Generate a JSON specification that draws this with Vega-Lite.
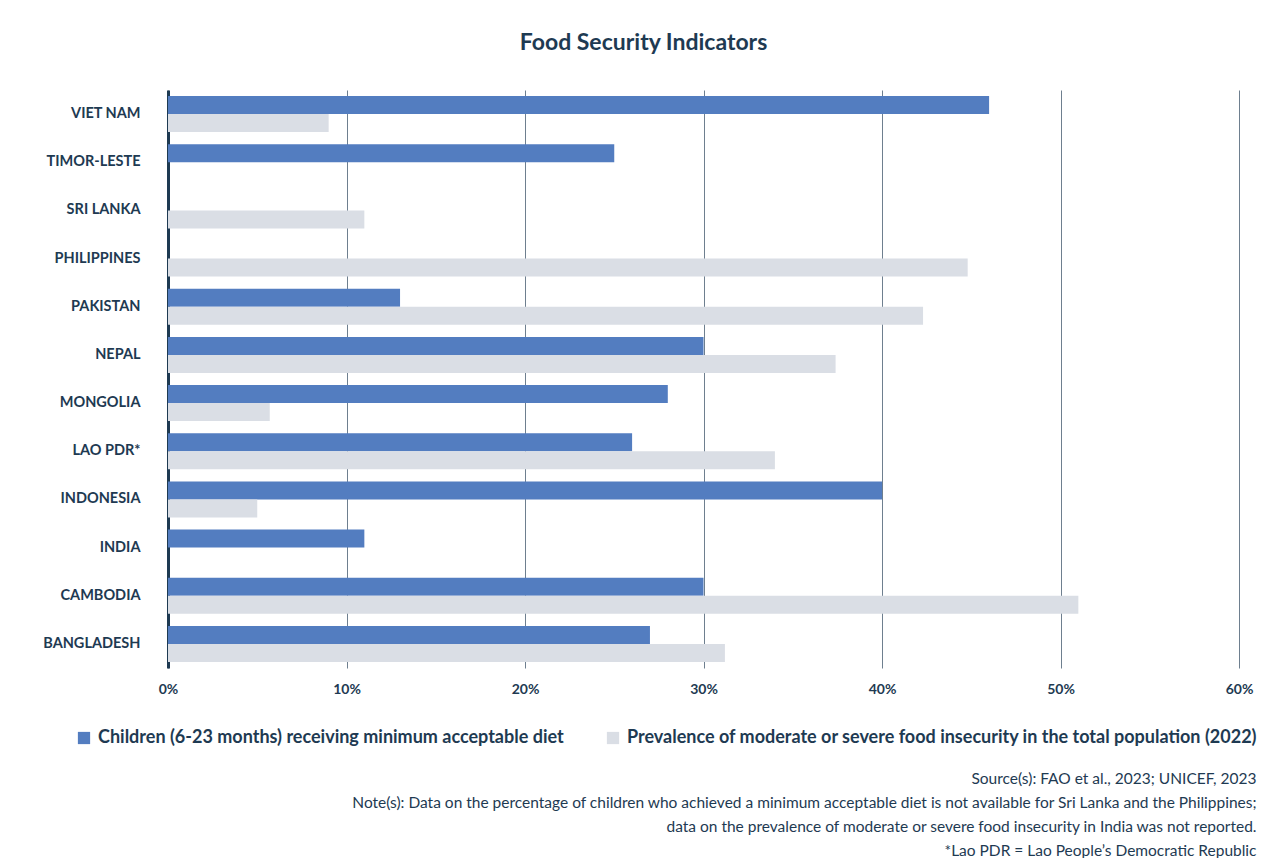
{
  "$schema": "https://vega.github.io/schema/vega-lite/v6.json",
  "width": 1071,
  "height": 578,
  "autosize": {"type": "none"},
  "padding": {"left": 168, "top": 90, "right": 43, "bottom": 190},
  "background": "white",
  "config": {
    "view": {"stroke": null},
    "font": "Lato"
  },
  "title": {
    "text": "Food Security Indicators",
    "font": "Lato",
    "fontSize": 23,
    "fontWeight": "bold",
    "color": "#1e3a52",
    "anchor": "middle",
    "offset": 35,
    "dx": -60
  },
  "data": {
    "values": [
      {"country": "VIET NAM", "series": "Children (6-23 months) receiving minimum acceptable diet", "value": 46},
      {"country": "VIET NAM", "series": "Prevalence of moderate or severe food insecurity in the total population (2022)", "value": 9},
      {"country": "TIMOR-LESTE", "series": "Children (6-23 months) receiving minimum acceptable diet", "value": 25},
      {"country": "SRI LANKA", "series": "Prevalence of moderate or severe food insecurity in the total population (2022)", "value": 11},
      {"country": "PHILIPPINES", "series": "Prevalence of moderate or severe food insecurity in the total population (2022)", "value": 44.8},
      {"country": "PAKISTAN", "series": "Children (6-23 months) receiving minimum acceptable diet", "value": 13},
      {"country": "PAKISTAN", "series": "Prevalence of moderate or severe food insecurity in the total population (2022)", "value": 42.3},
      {"country": "NEPAL", "series": "Children (6-23 months) receiving minimum acceptable diet", "value": 30},
      {"country": "NEPAL", "series": "Prevalence of moderate or severe food insecurity in the total population (2022)", "value": 37.4},
      {"country": "MONGOLIA", "series": "Children (6-23 months) receiving minimum acceptable diet", "value": 28},
      {"country": "MONGOLIA", "series": "Prevalence of moderate or severe food insecurity in the total population (2022)", "value": 5.7},
      {"country": "LAO PDR*", "series": "Children (6-23 months) receiving minimum acceptable diet", "value": 26},
      {"country": "LAO PDR*", "series": "Prevalence of moderate or severe food insecurity in the total population (2022)", "value": 34},
      {"country": "INDONESIA", "series": "Children (6-23 months) receiving minimum acceptable diet", "value": 40},
      {"country": "INDONESIA", "series": "Prevalence of moderate or severe food insecurity in the total population (2022)", "value": 5},
      {"country": "INDIA", "series": "Children (6-23 months) receiving minimum acceptable diet", "value": 11},
      {"country": "CAMBODIA", "series": "Children (6-23 months) receiving minimum acceptable diet", "value": 30},
      {"country": "CAMBODIA", "series": "Prevalence of moderate or severe food insecurity in the total population (2022)", "value": 51},
      {"country": "BANGLADESH", "series": "Children (6-23 months) receiving minimum acceptable diet", "value": 27},
      {"country": "BANGLADESH", "series": "Prevalence of moderate or severe food insecurity in the total population (2022)", "value": 31.2}
    ]
  },
  "mark": {"type": "bar"},
  "encoding": {
    "y": {
      "field": "country",
      "type": "nominal",
      "scale": {
        "domain": ["VIET NAM", "TIMOR-LESTE", "SRI LANKA", "PHILIPPINES", "PAKISTAN", "NEPAL", "MONGOLIA", "LAO PDR*", "INDONESIA", "INDIA", "CAMBODIA", "BANGLADESH"],
        "paddingInner": 0,
        "paddingOuter": 0
      },
      "axis": {
        "title": null,
        "domain": true,
        "domainColor": "#1e3a52",
        "domainWidth": 3,
        "ticks": false,
        "grid": false,
        "labelPadding": 28,
        "labelFont": "Lato",
        "labelFontSize": 14.5,
        "labelFontWeight": "bold",
        "labelColor": "#1e3a52"
      }
    },
    "x": {
      "field": "value",
      "type": "quantitative",
      "scale": {"domain": [0, 60], "nice": false},
      "axis": {
        "orient": "bottom",
        "values": [0, 10, 20, 30, 40, 50, 60],
        "labelExpr": "datum.value + '%'",
        "labelFlush": false,
        "domain": false,
        "ticks": false,
        "grid": true,
        "gridColor": "#6e7f8f",
        "gridWidth": 1,
        "labelPadding": 14,
        "labelFont": "Lato",
        "labelFontSize": 14,
        "labelFontWeight": "bold",
        "labelColor": "#1e3a52",
        "title": [
          "Source(s): FAO et al., 2023; UNICEF, 2023",
          "Note(s): Data on the percentage of children who achieved a minimum acceptable diet is not available for Sri Lanka and the Philippines;",
          "data on the prevalence of moderate or severe food insecurity in India was not reported.",
          "*Lao PDR = Lao People’s Democratic Republic"
        ],
        "titleX": 1088,
        "titleY": 103,
        "titleAlign": "right",
        "titleAnchor": "end",
        "titleBaseline": "top",
        "titleFont": "Lato",
        "titleFontSize": 15.5,
        "titleFontWeight": "normal",
        "titleLineHeight": 24,
        "titleColor": "#1e3a52"
      }
    },
    "yOffset": {
      "field": "series",
      "type": "nominal",
      "scale": {
        "domain": ["Children (6-23 months) receiving minimum acceptable diet", "Prevalence of moderate or severe food insecurity in the total population (2022)"],
        "paddingInner": 0,
        "paddingOuter": 0.338
      }
    },
    "color": {
      "field": "series",
      "type": "nominal",
      "scale": {
        "domain": ["Children (6-23 months) receiving minimum acceptable diet", "Prevalence of moderate or severe food insecurity in the total population (2022)"],
        "range": ["#537dc0", "#dadee5"]
      },
      "legend": {
        "orient": "none",
        "legendX": -93,
        "legendY": 639,
        "direction": "horizontal",
        "title": null,
        "symbolType": "square",
        "symbolSize": 150,
        "symbolStrokeWidth": 0,
        "labelFont": "Lato",
        "labelFontSize": 18,
        "labelFontWeight": "bold",
        "labelColor": "#1e3a52",
        "labelOffset": 5,
        "labelLimit": 0,
        "columnPadding": 40
      }
    }
  }
}
